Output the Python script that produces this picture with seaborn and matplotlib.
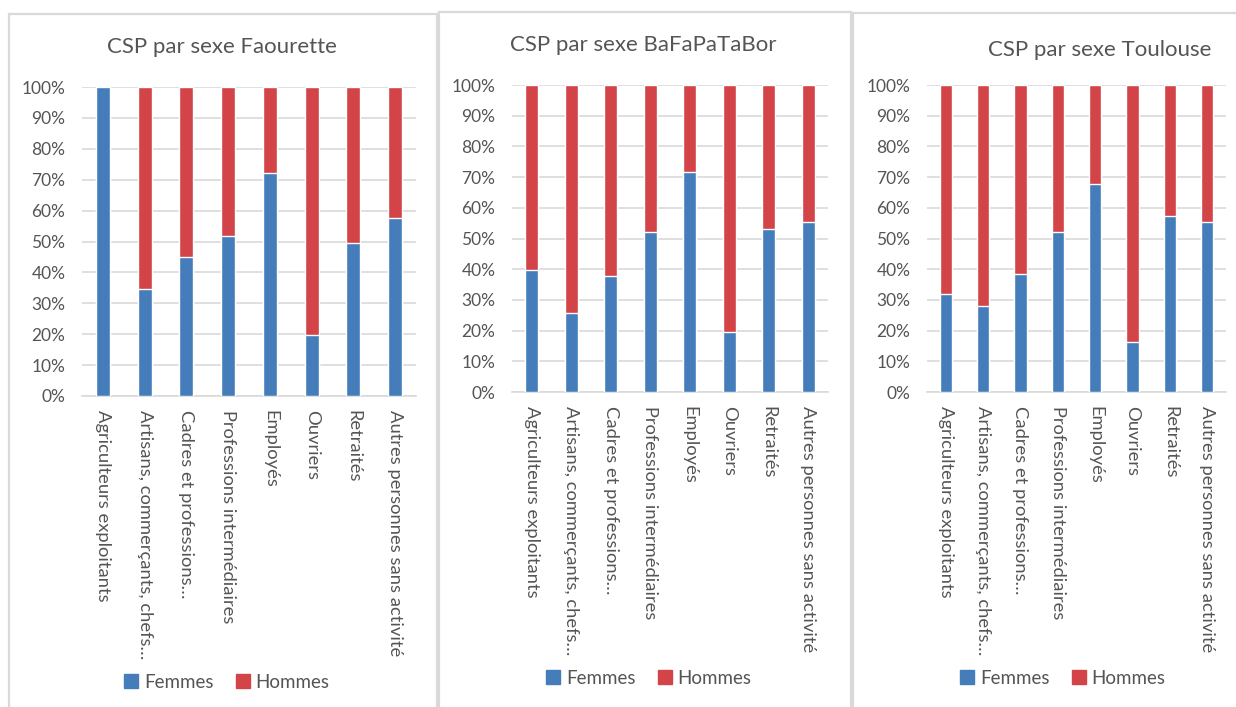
import matplotlib
matplotlib.use("Agg")
import pandas as pd
import seaborn as sns
import matplotlib.pyplot as plt
from matplotlib.patches import Rectangle, Patch

categories = ["Agriculteurs exploitants", "Artisans, commerçants, chefs…", "Cadres et professions…",
              "Professions intermédiaires", "Employés", "Ouvriers", "Retraités",
              "Autres personnes sans activité"]
titles = ["CSP par sexe Faourette", "CSP par sexe BaFaPaTaBor", "CSP par sexe Toulouse"]

# share of women (%) per CSP, men = the rest
femmes_faourette = [100, 34.7, 45.1, 51.9, 72.1, 19.7, 49.6, 57.5]
femmes_bafapatabor = [39.9, 25.6, 37.8, 52.2, 71.7, 19.4, 53.2, 55.4]
femmes_toulouse = [31.8, 27.9, 38.3, 52.2, 67.7, 16.2, 57.4, 55.4]
femmes = [femmes_faourette, femmes_bafapatabor, femmes_toulouse]

blue = "#457dbb"
red = "#d24448"
grey = "#555555"

sns.set_style("white")
plt.rcParams["font.family"] = ["Lato", "DejaVu Sans"]

W, H = 1236, 707
fig = plt.figure(figsize=(W / 100, H / 100), dpi=100)

# pixel layout: (axes left, axes right, y of 0%, y of 100%), panel box, title pos, legend pos
axes_px = [(82, 416, 396, 87), (512, 828, 392, 85), (927, 1226, 392, 85)]
box_px = [(9, 437, 14), (439, 851, 12), (853, 1245, 13)]
title_px = [(222, 47), (643, 45), (1100, 50)]
legend_px = [(227, 682), (649, 678), (1063, 678)]

for i in range(3):
    x0, x1, y0, y1 = axes_px[i]
    bl, br, bt = box_px[i]
    fig.patches.append(Rectangle((bl / W, -0.05), (br - bl) / W, 1.05 - bt / H,
                                 transform=fig.transFigure, fill=False,
                                 edgecolor="#d9d9d9", linewidth=1.6, zorder=0))
    ax = fig.add_axes([x0 / W, 1 - y0 / H, (x1 - x0) / W, (y0 - y1) / H])
    df = pd.DataFrame({"csp": categories, "Femmes": femmes[i]})
    df["Hommes"] = 100 - df["Femmes"]
    df["total"] = df["Femmes"] + df["Hommes"]
    sns.barplot(data=df, x="csp", y="total", color=red, width=0.33, ax=ax,
                saturation=1, zorder=3)
    sns.barplot(data=df, x="csp", y="Femmes", color=blue, width=0.33, ax=ax,
                saturation=1, zorder=4)
    ax.set_ylim(0, 100)
    ax.set_xlim(-0.5, 7.5)
    ax.set_yticks(range(0, 101, 10))
    ax.set_yticklabels([f"{v}%" for v in range(0, 101, 10)])
    ax.yaxis.grid(True, color="#d9d9d9", linewidth=1.2, zorder=0)
    ax.set_axisbelow(True)
    ax.set_xlabel("")
    ax.set_ylabel("")
    for s in ["top", "right", "left"]:
        ax.spines[s].set_visible(False)
    ax.spines["bottom"].set_color("#d9d9d9")
    ax.spines["bottom"].set_linewidth(1.2)
    ax.tick_params(axis="y", length=0, colors=grey, labelsize=12.5, pad=12)
    ax.tick_params(axis="x", length=0, colors=grey, labelsize=13.2, pad=10)
    ax.set_xticks(range(len(categories)))
    ax.set_xticklabels(categories, rotation=270, ha="center", va="top")
    fig.text(title_px[i][0] / W, 1 - title_px[i][1] / H, titles[i], ha="center",
             va="center", fontsize=16, color=grey)
    handles = [Patch(color=blue, label="Femmes"), Patch(color=red, label="Hommes")]
    fig.legend(handles=handles, loc="center", ncol=2, frameon=False,
               bbox_to_anchor=(legend_px[i][0] / W, 1 - legend_px[i][1] / H),
               fontsize=13.5, labelcolor=grey, handlelength=0.75, handleheight=0.75,
               handletextpad=0.3, columnspacing=1.2)

fig.savefig("out.png", dpi=100)
